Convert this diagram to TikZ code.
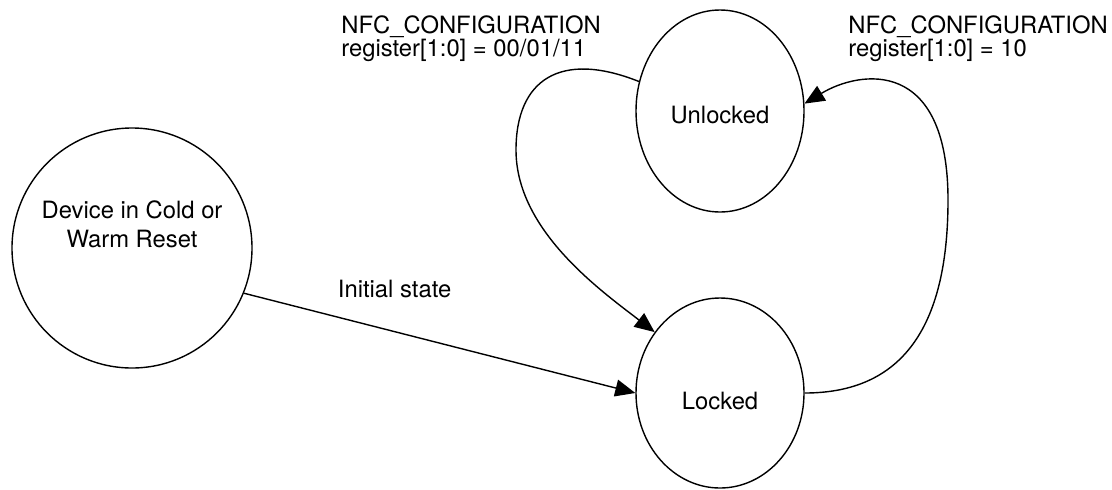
\documentclass[tikz,border=0pt]{standalone}
\usepackage{fontspec}
\setmainfont{TeX Gyre Heros}
\usetikzlibrary{shapes.geometric,arrows.meta}

\begin{document}
\begin{tikzpicture}[x=0.5pt, y=-0.5pt,
  state/.style={ellipse, draw, line width=0.7pt, minimum width=84pt, inner sep=0pt, font=\fontsize{11.9}{14.5}\selectfont},
  reset/.style={circle, draw, line width=0.7pt, minimum size=120pt, inner sep=0pt},
  line/.style={draw, line width=0.7pt, -{Triangle[length=10pt,width=8.5pt]}},
  note/.style={anchor=north west, align=left, inner sep=0pt, font=\fontsize{11.9}{10.5}\selectfont}
]
\useasboundingbox (0,0) rectangle (1112,489);

\node [state, minimum height=101pt, text height=12.6pt] (unlocked) at (720,111) {Unlocked};
\node [state, minimum height=95pt, text height=16.6pt] (locked) at (720,393) {Locked};
\node [reset, label={[yshift=12pt, align=center, font=\fontsize{11.9}{14.5}\selectfont]center:Device in Cold or\\Warm Reset}] (coldwarm) at (132,248) {};

\node [note] (cfglock) at (341,15) {NFC\_CONFIGURATION\\register[1:0] = 00/01/11};
\node [note] (cfgunlock) at (848,15) {NFC\_CONFIGURATION\\register[1:0] = 10};

\coordinate (westbend) at (516,150);
\coordinate (eastbend) at (948,200);

\path [line] (coldwarm.-22) -- node[pos=0.385, yshift=21.5pt, font=\fontsize{11.9}{14.5}\selectfont] {Initial state} (locked.west);
\path [line] (unlocked.160) .. controls (560,50) and (516,80) .. (westbend) .. controls (516,230) and (600,290) .. (locked.137);
\path [line] (locked.east) .. controls (900,393) and (948,330) .. (eastbend) .. controls (948,57) and (860,70) .. (unlocked.5);
\end{tikzpicture}
\end{document}
